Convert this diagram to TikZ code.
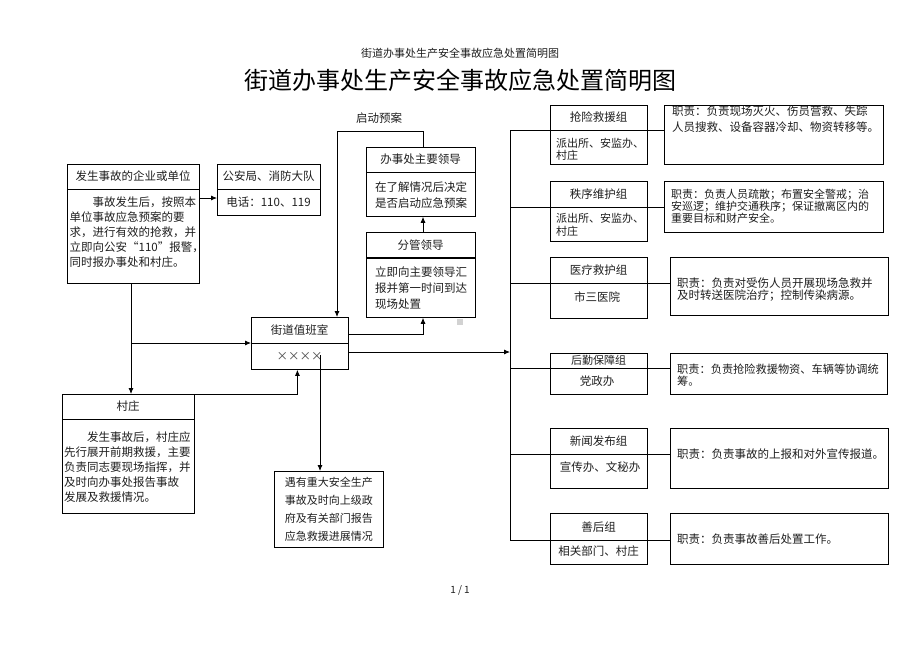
\documentclass[tikz,border=0pt]{standalone}
\usepackage{fontspec}
\setmainfont{Noto Sans CJK SC}
\usetikzlibrary{arrows.meta}
\begin{document}
\begin{tikzpicture}[x=1pt,y=-1pt,
 box/.style={draw=black,line width=0.8pt,inner sep=0pt,anchor=north west},
 t/.style={inner sep=0pt,text=black!88,font=\fontsize{11.5}{14}\selectfont},
 tl/.style={t,anchor=west,align=left},
 arr/.style={-{Latex[length=6pt,width=5pt]},line width=0.8pt},
 ln/.style={line width=0.8pt}]
\useasboundingbox[fill=white] (0,0) rectangle (920,651);

% titles
\node[t,font=\fontsize{11}{13}\selectfont] (hd) at (460,53) {街道办事处生产安全事故应急处置简明图};
\node[t,text=black,font=\fontsize{24}{28}\selectfont] (title) at (460,80) {街道办事处生产安全事故应急处置简明图};
\node[t,font=\fontsize{10}{12}\selectfont] (pg) at (460,590) {1 / 1};

% enterprise box
\node[box,minimum width=132pt,minimum height=119pt] (A) at (67,164) {};
\draw[ln] (67,189) -- (199,189);
\node[t] (Ah) at (133,176.5) {发生事故的企业或单位};
\node[tl,font=\fontsize{11.5}{15}\selectfont] (Ab) at (69.5,232.5) {\hspace*{2em}事故发生后，按照本\\单位事故应急预案的要\\求，进行有效的抢救，并\\立即向公安“110”报警，\\同时报办事处和村庄。};

% police box
\node[box,minimum width=103pt,minimum height=51pt] (P) at (217,164) {};
\draw[ln] (217,189) -- (320,189);
\node[t] (Ph) at (268.5,176.5) {公安局、消防大队};
\node[t] (Pb) at (268.5,202) {电话：110、119};

% duty room
\node[box,minimum width=97pt,minimum height=52pt] (D) at (251,317) {};
\draw[ln] (251,343) -- (348,343);
\node[t] (Dh) at (299.5,330) {街道值班室};
\node[t,text=black!70] (Db) at (299.5,356) {××××};

% village box
\node[box,minimum width=132pt,minimum height=119pt] (V) at (62,394) {};
\draw[ln] (62,419) -- (194,419);
\node[t] (Vh) at (128,406.5) {村庄};
\node[tl,font=\fontsize{11.5}{15}\selectfont] (Vb) at (64,466.7) {\hspace*{2em}发生事故后，村庄应\\先行展开前期救援，主要\\负责同志要现场指挥，并\\及时向办事处报告事故\\发展及救援情况。};

% report box
\node[box,minimum width=109pt,minimum height=76pt] (R) at (274,471) {};
\node[t,align=left,font=\fontsize{11}{18}\selectfont] (Rb) at (R.center) {遇有重大安全生产\\事故及时向上级政\\府及有关部门报告\\应急救援进展情况};

% main leader
\node[box,minimum width=109pt,minimum height=69pt] (B) at (366,147) {};
\draw[ln] (366,172) -- (475,172);
\node[t] (Bh) at (420.5,159.5) {办事处主要领导};
\node[tl,font=\fontsize{11.5}{16}\selectfont] (Bb) at (375,195) {在了解情况后决定\\是否启动应急预案};

% deputy leader
\node[box,minimum width=109pt,minimum height=85pt] (F) at (366,232) {};
\draw[line width=1.5pt] (366,258) -- (475,258);
\node[t] (Fh) at (420.5,245) {分管领导};
\node[tl,font=\fontsize{11.5}{16}\selectfont] (Fb) at (375,288.3) {立即向主要领导汇\\报并第一时间到达\\现场处置};

\node[t] (qd) at (379,118) {启动预案};
\fill[gray!35] (457,319) rectangle (463,325);

% groups
\node[box,minimum width=97pt,minimum height=59pt] (G1) at (550,105) {};
\node[box,minimum width=97pt,minimum height=60pt] (G2) at (550,181) {};
\node[box,minimum width=97pt,minimum height=61pt] (G3) at (550,257) {};
\node[box,minimum width=97pt,minimum height=41pt] (G4) at (550,353) {};
\node[box,minimum width=97pt,minimum height=60pt] (G5) at (550,428) {};
\node[box,minimum width=97pt,minimum height=51pt] (G6) at (550,513) {};

\node[t] (G1h) at (598.5,117.5) {抢险救援组};
\node[tl,font=\fontsize{11}{12.5}\selectfont] (G1b) at (556,149.5) {派出所、安监办、\\村庄};
\node[t] (G2h) at (598.5,194) {秩序维护组};
\node[tl,font=\fontsize{11}{13.5}\selectfont] (G2b) at (556,225) {派出所、安监办、\\村庄};
\node[t] (G3h) at (598.5,270) {医疗救护组};
\node[t] (G3b) at (597,297) {市三医院};
\node[t,font=\fontsize{11}{13}\selectfont] (G4h) at (598.5,360.5) {后勤保障组};
\node[t] (G4b) at (597,381) {党政办};
\node[t] (G5h) at (598.5,441.5) {新闻发布组};
\node[t] (G5b) at (600,466.7) {宣传办、文秘办};
\node[t] (G6h) at (598.5,527.5) {善后组};
\node[t] (G6b) at (598.5,551) {相关部门、村庄};

% duty descriptions
\node[box,minimum width=219pt,minimum height=59pt] (D1) at (664,105) {};
\node[box,minimum width=219pt,minimum height=51pt] (D2) at (664,181) {};
\node[box,minimum width=218pt,minimum height=58pt] (D3) at (670,257) {};
\node[box,minimum width=217pt,minimum height=41pt] (D4) at (670,353) {};
\node[box,minimum width=218pt,minimum height=60pt] (D5) at (670,428) {};
\node[box,minimum width=218pt,minimum height=51pt] (D6) at (670,513) {};

\node[tl,font=\fontsize{11.5}{16}\selectfont] (D1t) at (672,119) {职责：负责现场灭火、伤员营救、失踪\\人员搜救、设备容器冷却、物资转移等。};
\node[tl,font=\fontsize{11}{12.2}\selectfont] (D2t) at (671,206) {职责：负责人员疏散；布置安全警戒；治\\安巡逻；维护交通秩序；保证撤离区内的\\重要目标和财产安全。};
\node[tl,font=\fontsize{11.5}{12.7}\selectfont] (D3t) at (677,289.5) {职责：负责对受伤人员开展现场急救并\\及时转送医院治疗；控制传染病源。};
\node[tl,font=\fontsize{11.2}{12}\selectfont] (D4t) at (677,375) {职责：负责抢险救援物资、车辆等协调统\\筹。};
\node[tl] (D5t) at (677,454) {职责：负责事故的上报和对外宣传报道。};
\node[tl] (D6t) at (677,539) {职责：负责事故善后处置工作。};

% connectors
\coordinate (j1) at (131,343);
\coordinate (x4) at (320,355);
\coordinate (top1) at (337,131);
\coordinate (bt) at (510,130);
\coordinate (bb) at (510,540);
\coordinate (bin) at (510,352);

\draw[arr] (A.east |- 0,198) -- (P.west |- 0,198);
\draw[arr] (A.south -| 131,0) -- (V.north -| 131,0);
\draw[arr] (j1) -- (D.west |- j1);
\draw[arr] (V.north east) -| ([xshift=-2.5pt]D.south);
\draw[arr] (x4) -- (R.north -| x4);
\draw[arr] (D.east |- 0,334) -| (F.south -| 423,0);
\draw[arr] (F.north -| 423,0) -- (B.south -| 423,0);
\draw[arr] (B.north -| 423,0) |- (top1) -- (D.north -| top1);
\draw[arr] (D.east |- bin) -- (bin);
\draw[ln] (bt) -- (bb);
\draw[ln] (bt) -- (D1.west |- bt);
\draw[ln] (510,207) -- (D2.west |- 0,207);
\draw[ln] (510,283) -- (D3.west |- 0,283);
\draw[ln] (510,368) -- (D4.west |- 0,368);
\draw[ln] (510,454) -- (D5.west |- 0,454);
\draw[ln] (bb) -- (D6.west |- bb);
\end{tikzpicture}
\end{document}
